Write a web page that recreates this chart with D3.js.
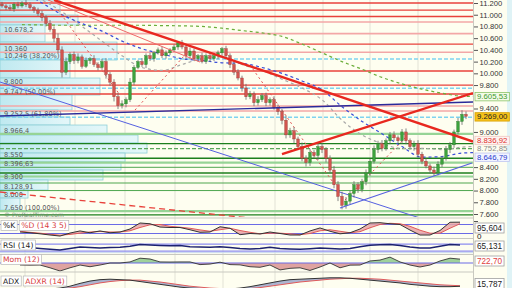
<!DOCTYPE html>
<html>
<head>
<meta charset="utf-8">
<script src="https://cdn.jsdelivr.net/npm/d3@7"></script>
<style>
  body { margin: 0; background: #fff; }
  svg { display: block; font-family: "DejaVu Sans", sans-serif; }
</style>
</head>
<body>
<svg id="chart" width="512" height="288"></svg>
<script>
// daily closes (index points), open = previous close
var firstOpen = 11180;
var closes = [11150,11120,11100,11180,11150,11200,11170,11120,11080,11020,
  10950,10850,10750,10600,10400,10020,10200,10320,10220,10280,
  10120,10220,10250,10150,10100,10200,9980,9850,9600,9450,
  9480,9550,9850,10100,10200,10150,10300,10250,10350,10400,
  10300,10350,10400,10450,10520,10450,10300,10380,10250,10300,
  10200,10300,10250,10300,10350,10420,10300,10150,10020,9920,
  9750,9600,9650,9500,9550,9620,9500,9550,9420,9350,
  9200,8950,9020,8880,8750,8550,8480,8650,8600,8750,
  8700,8550,8350,8100,7900,7750,7820,7950,8100,8020,
  8150,8300,8500,8700,8800,8720,8850,8950,8900,8850,
  9000,8850,8750,8800,8620,8500,8420,8350,8300,8450,
  8550,8700,8780,9000,9180,9300,9269];
var wickHi = [40,30,50,30,40,30,50,40,30,40, 50,40,60,50,80,60,70,40,50,60,
  40,50,30,60,40,50,60,40,50,70, 60,40,70,40,30,60,40,50,30,40,
  60,40,30,40,30,50,40,60,40,30, 50,40,60,30,40,30,50,40,60,50,
  40,70,50,40,60,40,50,40,60,50, 40,80,50,60,40,70,50,60,40,50,
  60,40,50,70,60,80,70,50,60,40, 50,60,40,70,50,60,40,50,60,40,
  50,60,40,50,60,40,50,40,60,50, 40,60,50,40,60,70,50];
var wickLo = [30,40,30,50,40,30,40,30,50,40, 60,50,40,70,60,90,50,40,60,50,
  40,30,60,40,50,40,70,60,80,60, 50,60,40,50,30,40,60,40,50,30,
  40,50,40,30,50,40,60,50,40,50, 30,40,50,40,60,50,40,60,50,40,
  60,50,40,60,50,40,60,50,40,60, 70,60,50,70,60,50,70,60,50,80,
  60,70,50,60,80,70,60,50,70,60, 50,60,50,40,60,50,40,60,50,40,
  50,60,50,70,60,50,40,60,50,40, 50,40,60,50,40,60,50];

var priceTicks = [7600,7800,8000,8200,8400,8600,8800,9000,9200,9400,9600,9800,10000,10200,10400,10600,10800,11000,11200];
var gridBars = [5.75, 18.25, 30.75, 43.25, 55.25, 68.25, 80.25, 92, 104];

// horizontal levels
var redLevels = [11200, 11080, 10970, 10500, 10040, 9800, 9647];
var pinkLevels = [10876, 10678.2, 10360, 9442, 9357];
var fibLevels = [10246, 9747, 9252.5];
var greenDarkLevels = [8800, 8550, 8300, 7585];
var greenLightLevels = [8966.4, 8475, 8240, 7650];
var greenThinLevels = [8396.63, 8128.91, 8000];
var greenDashLevels = [8715];

var labelPrices = [10678.2, 10360, 10246, 9800, 9747, 9252.5, 8966.4, 8550, 8396.63, 8300, 8128.91, 8000, 7650];
var labelTexts = ["10.678,2", "10.360", "10.246 (38,20%)", "9.800", "9.747 (50,00%)", "9.252,5 (61,80%)",
  "8.966,4", "8.550", "8.396,63", "8.300", "8.128,91", "8.000", "7.650 (100,00%)"];

// volume by price
var volEdges = [11251,10995,10825,10534,10227,9920,9630,9374,9255,9118,8947,8811,8640,8487,8350,8180,8009,7872,7667];
var volumes = [600,780,450,1170,700,1000,720,580,700,1070,1380,1470,1250,1210,1030,480,280,200];

// moving averages
var maBars = [0,5,10,15,20,25,30,35,40,45,50,55,60,65,70,75,80,85,90,95,100,105,110,115,117.75];
var maBlue = [11500,11400,11200,11000,10850,10720,10550,10420,10330,10250,10220,10180,10170,10100,10000,9870,9720,9430,9180,8970,8750,8570,8580,8640,8646.79];
var maGray = [11400,11350,11250,11050,10800,10550,10300,10100,10050,10150,10250,10280,10150,10050,9900,9750,9550,9200,8950,8800,8720,8720,8700,8740,8752.85];
var maGreen = [null,10830,10825,10820,10820,10820,10820,10820,10815,10810,10800,10770,10730,10690,10630,10500,10350,10200,10070,9930,9820,9730,9660,9610,9605.53];

// drawn lines: [bar, price] pairs
var redThick = [[13, 11250], [117.75, 8836.92]];
var redAsc = [[70, 8623], [117.75, 9664]];
var navyLine = [[-0.5, 9272], [117.75, 9511]];
var blueDesc = [[-0.5, 9852], [104.5, 7531]];
var blueAsc = [[84.5, 7702], [117.5, 8470]];
var redThin = [[11.5, 11251], [49.5, 10193]];
var redDashLow = [[-0.5, 7975], [62, 7531]];
var sarSegs = [
  [[14, 11080], [29.5, 9630]],
  [[33.25, 9374], [45.75, 10313]],
  [[62, 10142], [83.25, 8094]],
  [[85.75, 7838], [100.75, 8896]]
];

// indicators, one value every 2.5 bars from bar 4.5
var indStart = 4.5, indStep = 2.5;
var stochK = [30,25,18,10,3,23,37,25,37,25,30,50,90,85,63,60,60,45,28,30,65,55,12,20,17,30,20,10,10,37,57,35,18,25,50,90,92,85,80,43,10,10,40,95,95.604];
var stochD = [35,28,22,15,9,14,22,30,33,30,30,38,60,78,80,68,62,55,44,35,45,55,40,28,18,22,22,18,12,20,38,45,35,25,32,58,80,88,85,68,42,22,22,55,85];
var rsi = [53,50,45,40,36,45,53,50,47,50,52,58,68,65,62,60,62,55,53,52,55,50,45,42,45,52,45,42,40,43,47,45,42,45,55,63,66,68,62,53,48,48,58,68,65.131];
var mom = [-370,-400,-380,-900,-1500,-900,-380,-700,-380,0,0,200,900,750,200,180,200,200,-300,-200,150,-300,-350,-700,-800,-380,-1300,-1000,-900,-1400,-750,0,-900,-400,-380,380,550,1100,200,-380,-750,-380,380,900,722.7];
var adx = [8,8,9,10,12,16,22,27,30,31,30,29,26,23,20,17,14,12,11,10,9,10,12,15,19,23,27,30,31,32,33,34,34,33,31,29,27,25,23,20,18,16,15,15,15.787];
var adxr = [10,9,9,9,10,12,15,19,23,26,28,29,29,27,25,22,19,16,14,12,11,10,10,11,13,16,19,22,25,27,29,31,32,33,33,32,31,29,27,25,23,21,19,18,17];

var locale = d3.formatLocale({ decimal: ",", thousands: ".", grouping: [3], currency: ["", ""] });
var fmt0 = locale.format(",.0f"), fmt2 = locale.format(",.2f"), fmt3 = locale.format(",.3f");

var svg = d3.select("#chart");
var W = 512, H = 288, plotRight = 473, mainBottom = 217;
var boxFont = "Liberation Sans";

var x = d3.scaleLinear().domain([0, 116]).range([2, 466]);
var y = d3.scaleLinear().domain([7600, 11200]).range([214, 3]);
var yStoch = d3.scaleLinear().domain([0, 100]).range([236.5, 221.5]);
var yRsi = d3.scaleLinear().domain([0, 100]).range([256.3, 238.8]);
var yMom = d3.scaleLinear().domain([-1500, 1500]).range([271, 255]);
var yAdx = d3.scaleLinear().domain([10, 40]).range([289, 275]);
var xVol = d3.scaleLinear().domain([0, 1500]).range([0, 150]);
var indX = function(d, i) { return x(indStart + i * indStep); };

svg.append("rect").attr("width", W).attr("height", H).attr("fill", "#fefef0");
svg.append("rect").attr("x", 507).attr("width", 5).attr("height", H).attr("fill", "#dff3f6");

var defs = svg.append("defs");
defs.append("clipPath").attr("id", "clipMain").append("rect")
  .attr("x", 0).attr("y", 0).attr("width", plotRight).attr("height", mainBottom);
defs.append("clipPath").attr("id", "clipLow").append("rect")
  .attr("x", 0).attr("y", mainBottom).attr("width", plotRight).attr("height", H - mainBottom);
defs.append("clipPath").attr("id", "clipPos").append("rect")
  .attr("x", 0).attr("y", 250).attr("width", plotRight).attr("height", yMom(0) - 250);
defs.append("clipPath").attr("id", "clipNeg").append("rect")
  .attr("x", 0).attr("y", yMom(0)).attr("width", plotRight).attr("height", 20);
var grad = defs.append("linearGradient").attr("id", "volGrad");
grad.append("stop").attr("offset", "0%").attr("stop-color", "#bfe9f0");
grad.append("stop").attr("offset", "100%").attr("stop-color", "#e4f7f9");

// vertical grid
svg.append("g").selectAll("line").data(gridBars).enter().append("line")
  .attr("x1", function(d) { return x(d); }).attr("x2", function(d) { return x(d); })
  .attr("y1", 0).attr("y2", H).attr("stroke", "#e2e2d6").attr("stroke-width", 1);

var main = svg.append("g").attr("clip-path", "url(#clipMain)");

// volume profile
main.append("g").selectAll("rect").data(volumes).enter().append("rect")
  .attr("x", 0)
  .attr("y", function(d, i) { return y(volEdges[i]); })
  .attr("width", function(d) { return xVol(d); })
  .attr("height", function(d, i) { return y(volEdges[i + 1]) - y(volEdges[i]); })
  .attr("fill", "url(#volGrad)").attr("stroke", "#8fd0d8").attr("stroke-width", 0.8);

function levels(data, color, width, dash) {
  main.append("g").selectAll("line").data(data).enter().append("line")
    .attr("x1", 0).attr("x2", plotRight)
    .attr("y1", function(d) { return y(d); }).attr("y2", function(d) { return y(d); })
    .attr("stroke", color).attr("stroke-width", width)
    .attr("stroke-dasharray", dash || null);
}
levels(pinkLevels, "#f3a7a7", 1.6);
levels(redLevels, "#e8423b", 1.3);
levels(fibLevels, "#7fd3ef", 1.5, "4,2");
levels(greenLightLevels, "#96d496", 2.2);
levels(greenThinLevels, "#4ea64e", 1);
levels(greenDarkLevels, "#1d7f1d", 1.4);
levels(greenDashLevels, "#5aa85a", 1.2, "4,2");

// left level labels: above their line, or below it when the previous label is too close
var labelBase = [];
labelPrices.forEach(function(p, i) {
  var b = y(p) - 1.2;
  if (i > 0 && b - labelBase[i - 1] < 6) b = y(p) + 6.2;
  labelBase.push(b);
});
main.append("g").selectAll("text").data(labelTexts).enter().append("text")
  .attr("x", 4).attr("y", function(d, i) { return labelBase[i]; })
  .attr("font-size", 6.6).attr("fill", "#5a5a5a").text(function(d) { return d; });
main.append("text").attr("x", 4).attr("y", 216.6).attr("font-size", 6)
  .attr("fill", "#6f8f6f").text("© ProRealTime.com");

// moving averages
var maLine = d3.line().defined(function(d) { return d != null; })
  .x(function(d, i) { return x(maBars[i]); }).y(function(d) { return y(d); })
  .curve(d3.curveMonotoneX);
main.append("path").datum(maGreen).attr("d", maLine).attr("fill", "none")
  .attr("stroke", "#6cae3a").attr("stroke-width", 1.2).attr("stroke-dasharray", "3,3");
main.append("path").datum(maGray).attr("d", maLine).attr("fill", "none")
  .attr("stroke", "#a8a8a8").attr("stroke-width", 1.2).attr("stroke-dasharray", "3,3");
main.append("path").datum(maBlue).attr("d", maLine).attr("fill", "none")
  .attr("stroke", "#3a4fd8").attr("stroke-width", 1.2).attr("stroke-dasharray", "3,3");

var seg = d3.line().x(function(d) { return x(d[0]); }).y(function(d) { return y(d[1]); });
function drawSeg(pts, color, width, dash) {
  main.append("path").datum(pts).attr("d", seg).attr("fill", "none")
    .attr("stroke", color).attr("stroke-width", width).attr("stroke-dasharray", dash || null);
}
drawSeg(blueDesc, "#5560e0", 1);
drawSeg(redDashLow, "#e8423b", 1.3, "6,4");
sarSegs.forEach(function(s) { drawSeg(s, "#e05050", 1, "2,3"); });

// candles
var candles = main.append("g");
closes.forEach(function(c, i) {
  var o = i === 0 ? firstOpen : closes[i - 1];
  var hi = Math.max(o, c) + (wickHi[i] || 40), lo = Math.min(o, c) - (wickLo[i] || 40);
  var up = c >= o;
  candles.append("line").attr("x1", x(i)).attr("x2", x(i)).attr("y1", y(hi)).attr("y2", y(lo))
    .attr("stroke", "#6a6a6a").attr("stroke-width", 0.8);
  candles.append("rect").attr("x", x(i) - 1.3).attr("width", 2.6)
    .attr("y", y(Math.max(o, c))).attr("height", Math.max(0.8, Math.abs(y(o) - y(c))))
    .attr("fill", up ? "#3da23d" : "#d2554f").attr("stroke", up ? "#2a7a2a" : "#9a3a36").attr("stroke-width", 0.4);
});

drawSeg(navyLine, "#2a2a9a", 1.3);
drawSeg(blueAsc, "#5560e0", 1.1);
drawSeg(redThin, "#ee6a6a", 1);
drawSeg(redThick, "#e8281f", 2.4);
drawSeg(redAsc, "#e8281f", 2.4);

// separator between plot and axis
svg.append("line").attr("x1", plotRight + 0.5).attr("x2", plotRight + 0.5).attr("y1", 0).attr("y2", H)
  .attr("stroke", "#c9c9c0");

// value boxes on the price axis (ticks underneath them are hidden)
var boxes = [
  { v: maGreen[maGreen.length - 1], color: "#3d9a2a", fill: "#f4fbe8", stroke: "#8cc46a", dy: 0 },
  { v: closes[closes.length - 1], color: "#222", fill: "#f6c21a", stroke: "#d8a000", dy: 0.5 },
  { v: redThick[1][1], color: "#e0302a", fill: "#fdf3f0", stroke: "#f0c8c0", dy: -1.2 },
  { v: maGray[maGray.length - 1], color: "#8a8a8a", fill: "none", stroke: "none", dy: 1.8 },
  { v: maBlue[maBlue.length - 1], color: "#2a3ad0", fill: "#f2f4ff", stroke: "#c0c6f0", dy: 4.4 }
];

var axisG = svg.append("g").attr("transform", "translate(" + (plotRight + 1) + ",0)")
  .call(d3.axisRight(y).tickValues(priceTicks.filter(function(t) {
    return !boxes.some(function(b) { return Math.abs(y(b.v) - y(t)) < 7; });
  })).tickFormat(fmt0).tickSize(4).tickPadding(1.5));
axisG.select(".domain").remove();
axisG.selectAll("text").attr("font-size", 7.6).attr("fill", "#333");
axisG.selectAll("line").attr("stroke", "#555");

boxes.forEach(function(b) {
  var yy = y(b.v) + b.dy;
  var g = svg.append("g");
  var t = g.append("text").attr("x", 477).attr("y", yy + 2.7).attr("font-size", 7.8)
    .attr("font-family", boxFont).attr("fill", b.color).text(fmt2(b.v));
  var w = t.node().getComputedTextLength();
  g.insert("rect", "text").attr("x", 475).attr("y", yy - 4).attr("width", w + 4).attr("height", 8.4)
    .attr("fill", b.fill).attr("stroke", b.stroke).attr("stroke-width", 0.8);
});

// ---- lower panels ----
var low = svg.append("g").attr("clip-path", "url(#clipLow)");
[218, 238.5, 254.5, 272].forEach(function(yy) {
  svg.append("line").attr("x1", 0).attr("x2", plotRight).attr("y1", yy).attr("y2", yy)
    .attr("stroke", "#c8c8c0").attr("stroke-width", 1);
});

function hline(yy, color, width) {
  low.append("line").attr("x1", 0).attr("x2", plotRight).attr("y1", yy).attr("y2", yy)
    .attr("stroke", color).attr("stroke-width", width);
}

// stochastic
hline(yStoch(80), "#6b6be6", 1.1);
hline(yStoch(20), "#6b6be6", 1.1);
low.append("path").datum(stochK)
  .attr("d", d3.area().x(indX).y0(function(d, i) { return yStoch(stochD[i]); }).y1(function(d) { return yStoch(d); }))
  .attr("fill", "#e9a6a6").attr("opacity", 0.85);
low.append("path").datum(stochD).attr("d", d3.line().x(indX).y(function(d) { return yStoch(d); }))
  .attr("fill", "none").attr("stroke", "#e05a5a").attr("stroke-width", 1);
low.append("path").datum(stochK).attr("d", d3.line().x(indX).y(function(d) { return yStoch(d); }))
  .attr("fill", "none").attr("stroke", "#333").attr("stroke-width", 1);

// RSI
hline(yRsi(70), "#8c8cf0", 1.2);
hline(yRsi(30), "#8c8cf0", 1.2);
hline(yRsi(30) + 1.6, "#c8d8f0", 1);
low.append("path").datum(rsi).attr("d", d3.line().x(indX).y(function(d) { return yRsi(d); }))
  .attr("fill", "none").attr("stroke", "#1c2270").attr("stroke-width", 1.5);

// momentum
var momArea = d3.area().x(indX).y0(yMom(0)).y1(function(d) { return yMom(d); });
low.append("path").datum(mom).attr("d", momArea).attr("fill", "#9fd19b").attr("clip-path", "url(#clipPos)");
low.append("path").datum(mom).attr("d", momArea).attr("fill", "#dfa3a0").attr("clip-path", "url(#clipNeg)");
hline(yMom(0), "#6b6be6", 1.1);
low.append("path").datum(mom).attr("d", d3.line().x(indX).y(function(d) { return yMom(d); }))
  .attr("fill", "none").attr("stroke", "#333").attr("stroke-width", 0.9);

// ADX / ADXR
low.append("path").datum(adx)
  .attr("d", d3.area().x(indX).y0(function(d, i) { return yAdx(adxr[i]); }).y1(function(d) { return yAdx(d); }))
  .attr("fill", "#98a3c8").attr("opacity", 0.8);
low.append("path").datum(adxr).attr("d", d3.line().x(indX).y(function(d) { return yAdx(d); }))
  .attr("fill", "none").attr("stroke", "#e05a5a").attr("stroke-width", 1);
low.append("path").datum(adx).attr("d", d3.line().x(indX).y(function(d) { return yAdx(d); }))
  .attr("fill", "none").attr("stroke", "#333").attr("stroke-width", 1);

// panel titles
function titleBox(xx, yy, text, color) {
  var g = svg.append("g");
  var t = g.append("text").attr("x", xx + 2).attr("y", yy).attr("font-size", 7.6)
    .attr("fill", color).text(text);
  var w = t.node().getComputedTextLength();
  g.insert("rect", "text").attr("x", xx).attr("y", yy - 7.5).attr("width", w + 4).attr("height", 10)
    .attr("fill", "#fff").attr("stroke", "#b8b8b8").attr("stroke-width", 0.7);
  return xx + w + 6;
}
var nx = titleBox(1, 228, "%K", "#222");
titleBox(nx, 228, "%D (14 3 5)", "#d84040");
titleBox(1, 247.5, "RSI (14)", "#222");
titleBox(1, 262, "Mom (12)", "#d84040");
nx = titleBox(1, 283.5, "ADX", "#222");
titleBox(nx, 283.5, "ADXR (14)", "#d84040");

// lower right values
function lowBox(yy, text, color) {
  var g = svg.append("g");
  var t = g.append("text").attr("x", 477).attr("y", yy + 3).attr("font-size", 8.2)
    .attr("font-family", boxFont).attr("fill", color).text(text);
  var w = t.node().getComputedTextLength();
  g.insert("rect", "text").attr("x", 475).attr("y", yy - 5).attr("width", w + 4).attr("height", 10)
    .attr("fill", "#fff").attr("stroke", "#a0a0a0").attr("stroke-width", 0.8);
}
lowBox(228, fmt3(stochK[stochK.length - 1]), "#222");
svg.append("text").attr("x", 477).attr("y", 239).attr("font-size", 8).attr("font-family", boxFont)
  .attr("fill", "#222").text("0");
lowBox(246, fmt3(rsi[rsi.length - 1]), "#222");
lowBox(261, fmt2(mom[mom.length - 1]), "#e04040");
lowBox(283.5, fmt3(adx[adx.length - 1]), "#222");
svg.append("line").attr("x1", 474).attr("x2", 478).attr("y1", yStoch(100)).attr("y2", yStoch(100)).attr("stroke", "#555");
</script>
</body>
</html>
